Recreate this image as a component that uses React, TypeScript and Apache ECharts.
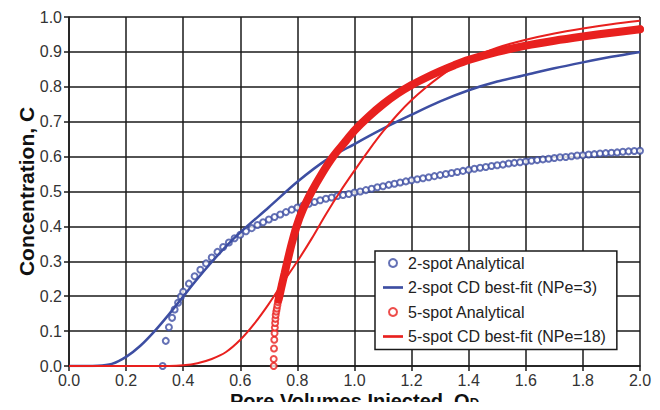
import React, { useEffect, useRef } from "react";
import * as echarts from "echarts";

// ---- data ----
const xTickLabels = ["0.0", "0.2", "0.4", "0.6", "0.8", "1.0", "1.2", "1.4", "1.6", "1.8", "2.0"];
const yTickLabels = ["0.0", "0.1", "0.2", "0.3", "0.4", "0.5", "0.6", "0.7", "0.8", "0.9", "1.0"];

// 2-spot analytical (open circles)
const twoSpotQ = [
  0.328, 0.339, 0.35, 0.361, 0.37, 0.382, 0.392,
  0.4, 0.42, 0.44, 0.46, 0.48, 0.5, 0.52, 0.54, 0.56, 0.58, 0.6, 0.62, 0.64, 0.66, 0.68,
  0.7, 0.72, 0.74, 0.76, 0.78, 0.8, 0.82, 0.84, 0.86, 0.88, 0.9, 0.92, 0.94, 0.96, 0.98,
  1.0, 1.02, 1.04, 1.06, 1.08, 1.1, 1.12, 1.14, 1.16, 1.18, 1.2, 1.22, 1.24, 1.26, 1.28,
  1.3, 1.32, 1.34, 1.36, 1.38, 1.4, 1.42, 1.44, 1.46, 1.48, 1.5, 1.52, 1.54, 1.56, 1.58,
  1.6, 1.62, 1.64, 1.66, 1.68, 1.7, 1.72, 1.74, 1.76, 1.78, 1.8, 1.82, 1.84, 1.86, 1.88,
  1.9, 1.92, 1.94, 1.96, 1.98, 2.0,
];
const twoSpotC = [
  0.0, 0.072, 0.111, 0.138, 0.162, 0.181, 0.199,
  0.213, 0.236, 0.257, 0.276, 0.294, 0.311, 0.327, 0.341, 0.354, 0.366, 0.376, 0.386, 0.395, 0.404, 0.412,
  0.42, 0.427, 0.434, 0.441, 0.448, 0.454, 0.46, 0.465, 0.47, 0.475, 0.479, 0.483, 0.487, 0.49, 0.493,
  0.497, 0.5, 0.504, 0.508, 0.512, 0.515, 0.519, 0.522, 0.526, 0.529, 0.532, 0.535, 0.538, 0.541, 0.544,
  0.547, 0.55, 0.553, 0.556, 0.559, 0.562, 0.565, 0.568, 0.57, 0.573, 0.575, 0.577, 0.58, 0.582, 0.584,
  0.586, 0.588, 0.59, 0.592, 0.594, 0.596, 0.598, 0.599, 0.601, 0.603, 0.604, 0.606, 0.607, 0.609, 0.61,
  0.611, 0.612, 0.614, 0.615, 0.616, 0.617,
];

// 2-spot CD best-fit (NPe=3)
const twoSpotFitQ = [0.0, 0.1, 0.15, 0.2, 0.25, 0.3, 0.35, 0.4, 0.45, 0.5, 0.55, 0.6, 0.7, 0.8, 0.9, 1.0, 1.1, 1.2, 1.3, 1.4, 1.5, 1.6, 1.7, 1.8, 1.9, 2.0];
const twoSpotFitC = [0.0, 0.001, 0.006, 0.026, 0.058, 0.1, 0.148, 0.199, 0.25, 0.298, 0.343, 0.383, 0.455, 0.528, 0.59, 0.636, 0.68, 0.72, 0.758, 0.79, 0.815, 0.834, 0.853, 0.87, 0.886, 0.9];

// 5-spot analytical: breakthrough circles, then dense band
const fiveSpotQ = [0.717, 0.717, 0.718, 0.719, 0.72, 0.721, 0.722, 0.723, 0.724, 0.726, 0.728, 0.73, 0.732, 2.0];
const fiveSpotC = [0.0, 0.02, 0.05, 0.075, 0.094, 0.11, 0.123, 0.135, 0.146, 0.156, 0.165, 0.174, 0.183, 0.965];
const fiveSpotBandQ = [0.734, 0.737, 0.745, 0.755, 0.765, 0.78, 0.797, 0.82, 0.85, 0.885, 0.925, 0.97, 1.0, 1.05, 1.1, 1.15, 1.2, 1.25, 1.3, 1.35, 1.4, 1.5, 1.6, 1.7, 1.8, 1.9, 2.0];
const fiveSpotBandC = [0.19, 0.2, 0.23, 0.265, 0.3, 0.35, 0.4, 0.45, 0.5, 0.55, 0.6, 0.645, 0.675, 0.715, 0.75, 0.78, 0.805, 0.826, 0.845, 0.862, 0.877, 0.9, 0.918, 0.932, 0.944, 0.955, 0.965];

// 5-spot CD best-fit (NPe=18)
const fiveSpotFitQ = [0.0, 0.35, 0.4, 0.45, 0.5, 0.55, 0.6, 0.65, 0.7, 0.75, 0.8, 0.85, 0.9, 0.95, 1.0, 1.05, 1.1, 1.15, 1.2, 1.25, 1.3, 1.35, 1.4, 1.5, 1.6, 1.7, 1.8, 1.9, 2.0];
const fiveSpotFitC = [0.0, 0.0, 0.002, 0.008, 0.02, 0.04, 0.075, 0.122, 0.178, 0.24, 0.3, 0.365, 0.435, 0.5, 0.56, 0.618, 0.672, 0.72, 0.762, 0.798, 0.83, 0.858, 0.88, 0.912, 0.935, 0.953, 0.967, 0.979, 0.989];

const legendNames = [
  "2-spot Analytical",
  "2-spot CD best-fit (NPe=3)",
  "5-spot Analytical",
  "5-spot CD best-fit (NPe=18)",
];

const BLUE = "#3d4ea2";
const RED = "#e8201e";
const FONT = "Liberation Sans, Arial, sans-serif";
const LINE_ICON = "path://M0,0 L24,0 L24,3.2 L0,3.2 Z";

const zip = (a: number[], b: number[]) => a.map((v, i) => [v, b[i]]);

export default function App() {
  const ref = useRef<HTMLDivElement>(null);
  useEffect(() => {
    if (!ref.current) return;
    const chart = echarts.init(ref.current, undefined, { renderer: "svg" });
    const option: any = {
      animation: false,
      backgroundColor: "#ffffff",
      textStyle: { fontFamily: FONT },
      grid: { left: 69, right: 20, top: 17, bottom: 44, containLabel: false, outerBoundsMode: "none" },
      legend: {
        data: [
          { name: legendNames[0], icon: "emptyCircle" },
          { name: legendNames[1], icon: LINE_ICON },
          { name: legendNames[2], icon: "emptyCircle" },
          { name: legendNames[3], icon: LINE_ICON },
        ],
        orient: "vertical",
        left: 375,
        top: 251,
        itemWidth: 20,
        itemHeight: 8,
        itemGap: 8.5,
        padding: [4, 11, 5, 8],
        backgroundColor: "#ffffff",
        borderColor: "#1a1a1a",
        borderWidth: 1.5,
        borderRadius: 0,
        textStyle: { fontFamily: FONT, fontSize: 16, color: "#222" },
      },
      xAxis: {
        type: "value",
        min: 0,
        max: 2,
        interval: 0.2,
        name: "{a|Pore Volumes Injected, Q}{b|D}",
        nameLocation: "middle",
        nameGap: 25,
        nameMoveOverlap: false,
        nameTextStyle: {
          rich: {
            a: { fontFamily: FONT, fontSize: 20, fontWeight: "bold", color: "#111", lineHeight: 18, verticalAlign: "top" },
            b: { fontFamily: FONT, fontSize: 13, fontWeight: "bold", color: "#111", lineHeight: 13, padding: [5, 0, 0, 0], verticalAlign: "top" },
          },
        },
        axisLine: { show: true, lineStyle: { color: "#1a1a1a", width: 1.5 } },
        axisTick: { show: true, inside: false, length: 5, lineStyle: { color: "#1a1a1a", width: 1.5 } },
        axisLabel: {
          fontFamily: FONT,
          fontSize: 16,
          color: "#333",
          margin: 6,
          formatter: (v: number) => xTickLabels[Math.round(v / 0.2)] ?? v.toFixed(1),
        },
        splitLine: { show: true, lineStyle: { color: "#1a1a1a", width: 1.5 } },
      },
      yAxis: {
        type: "value",
        min: 0,
        max: 1,
        interval: 0.1,
        name: "Concentration, C",
        nameLocation: "middle",
        nameGap: 32,
        nameMoveOverlap: false,
        nameTextStyle: { fontFamily: FONT, fontSize: 21, fontWeight: "bold", color: "#111" },
        axisLine: { show: true, lineStyle: { color: "#1a1a1a", width: 1.5 } },
        axisTick: { show: true, inside: false, length: 5, lineStyle: { color: "#1a1a1a", width: 1.5 } },
        axisLabel: {
          fontFamily: FONT,
          fontSize: 16,
          color: "#333",
          margin: 7,
          formatter: (v: number) => yTickLabels[Math.round(v / 0.1)] ?? v.toFixed(1),
        },
        splitLine: { show: true, lineStyle: { color: "#1a1a1a", width: 1.5 } },
      },
      series: [
        {
          name: legendNames[0],
          type: "scatter",
          data: zip(twoSpotQ, twoSpotC),
          symbol: "emptyCircle",
          symbolSize: 6,
          clip: false,
          itemStyle: { color: BLUE, borderColor: BLUE, borderWidth: 1.4 },
        },
        {
          name: legendNames[1],
          type: "line",
          data: zip(twoSpotFitQ, twoSpotFitC),
          smooth: 0.3,
          showSymbol: false,
          symbol: "none",
          itemStyle: { color: BLUE },
          lineStyle: { color: BLUE, width: 2.5 },
        },
        {
          name: "5-spot Analytical band",
          type: "line",
          data: zip(fiveSpotBandQ, fiveSpotBandC),
          smooth: 0.3,
          showSymbol: false,
          symbol: "none",
          itemStyle: { color: RED },
          lineStyle: { color: RED, width: 8, cap: "round" },
        },
        {
          name: legendNames[2],
          type: "scatter",
          data: zip(fiveSpotQ, fiveSpotC),
          symbol: "emptyCircle",
          symbolSize: 6,
          clip: false,
          itemStyle: { color: RED, borderColor: RED, borderWidth: 1.4 },
        },
        {
          name: legendNames[3],
          type: "line",
          data: zip(fiveSpotFitQ, fiveSpotFitC),
          smooth: 0.3,
          showSymbol: false,
          symbol: "none",
          itemStyle: { color: RED },
          lineStyle: { color: RED, width: 2 },
        },
      ],
    };
    chart.setOption(option);
    return () => chart.dispose();
  }, []);
  return <div ref={ref} style={{ width: 660, height: 410, margin: -8 }} />;
}
